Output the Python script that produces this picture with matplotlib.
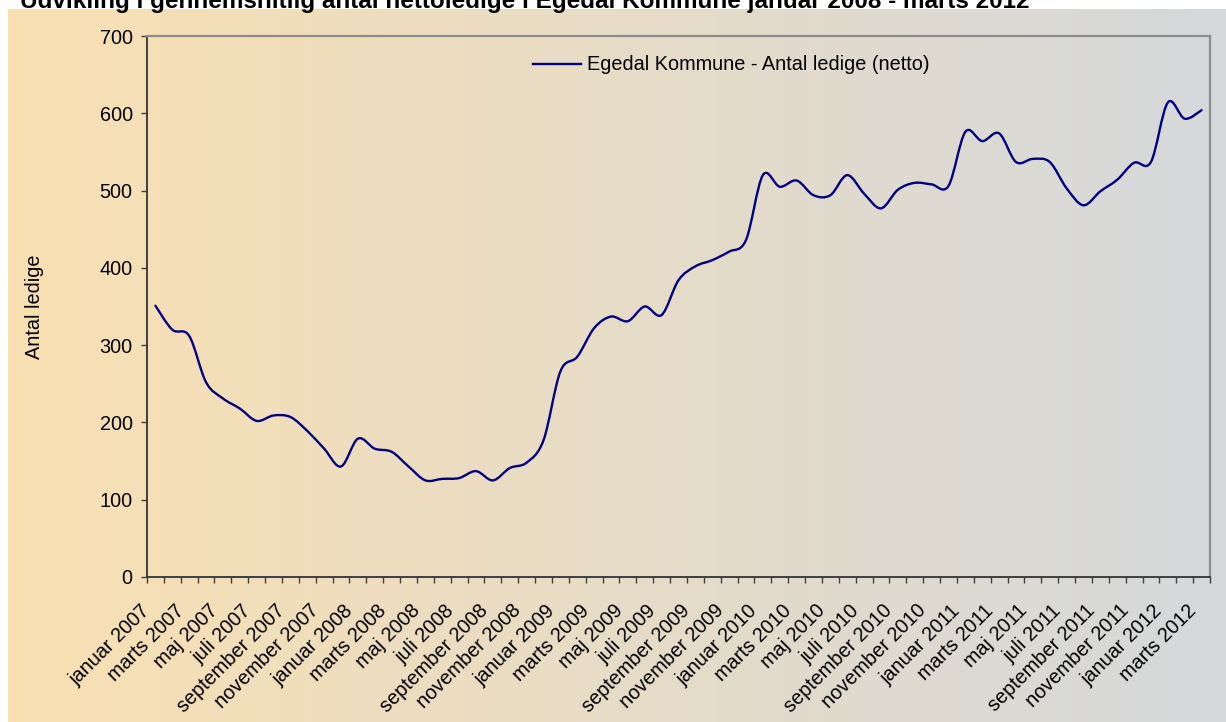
import numpy as np
import matplotlib
matplotlib.use("Agg")
import matplotlib.pyplot as plt
import matplotlib.transforms as mtransforms
from matplotlib.path import Path
from matplotlib.patches import PathPatch
from matplotlib.lines import Line2D

plt.rcParams["font.family"] = ["Liberation Sans", "DejaVu Sans"]

MONTH_NAMES = ["januar", "februar", "marts", "april", "maj", "juni", "juli",
               "august", "september", "oktober", "november", "december"]
YEARS = [2007, 2008, 2009, 2010, 2011, 2012]
N_MONTHS = 63  # januar 2007 - marts 2012
months = [f"{MONTH_NAMES[i % 12]} {YEARS[i // 12]}" for i in range(N_MONTHS)]

ledige = [351, 320, 312, 252, 231, 218, 202, 209, 207, 189, 166, 143,
          179, 166, 162, 143, 125, 127, 128, 137, 125, 141, 148, 177,
          266, 285, 322, 337, 331, 350, 339, 384, 402, 410, 421, 436,
          520, 505, 513, 494, 494, 520, 496, 477, 501, 510, 508, 506,
          576, 564, 574, 537, 541, 537, 503, 481, 499, 514, 536, 537,
          614, 593, 604]

SERIES_LABEL = "Egedal Kommune - Antal ledige (netto)"
TITLE = "Udvikling i gennemsnitlig antal nettoledige i Egedal Kommune januar 2008 - marts 2012"
LINE_COLOR = "#000080"
FS = 14.3

W, H = 1226, 722
fig = plt.figure(figsize=(W / 100, H / 100), dpi=100)
fig.patch.set_facecolor("white")

# gradient background (orange -> grey)
bg = fig.add_axes([8 / W, 0, 1 - 8 / W, 1 - 9 / H], zorder=0)
left_c = np.array([249, 224, 178]) / 255
right_c = np.array([213, 216, 219]) / 255
t = np.linspace(0, 1, 256)[None, :, None]
grad = left_c[None, None, :] * (1 - t) + right_c[None, None, :] * t
bg.imshow(grad, aspect="auto", extent=[0, 1, 0, 1])
bg.axis("off")

ax = fig.add_axes([147 / W, 1 - 577 / H, (1210 - 147) / W, (577 - 36) / H], zorder=1)
ax.patch.set_alpha(0)

# smoothed line (Excel-style bezier through the monthly values)
x = np.arange(len(ledige), dtype=float)
y = np.array(ledige, dtype=float)
verts = [(x[0], y[0])]
codes = [Path.MOVETO]
n = len(x)
for i in range(n - 1):
    p0 = np.array([x[max(i - 1, 0)], y[max(i - 1, 0)]])
    p1 = np.array([x[i], y[i]])
    p2 = np.array([x[i + 1], y[i + 1]])
    p3 = np.array([x[min(i + 2, n - 1)], y[min(i + 2, n - 1)]])
    c1 = p1 + (p2 - p0) / 6
    c2 = p2 - (p3 - p1) / 6
    verts += [tuple(c1), tuple(c2), tuple(p2)]
    codes += [Path.CURVE4] * 3
ax.add_patch(PathPatch(Path(verts, codes), fill=False, edgecolor=LINE_COLOR,
                       linewidth=1.7, capstyle="round", joinstyle="round"))

ax.set_xlim(-0.5, N_MONTHS - 0.5)
ax.set_ylim(0, 700)
ax.set_yticks(range(0, 701, 100))

# ticks between categories, labels every second month
ax.set_xticks(np.arange(-0.5, N_MONTHS, 1))
ax.set_xticklabels([])
lab_pos = list(range(0, N_MONTHS, 2))
ax.set_xticks(lab_pos, [months[i] for i in lab_pos], minor=True)
ax.tick_params(axis="x", which="major", length=4, width=1, color="#404040", direction="out")
ax.tick_params(axis="x", which="minor", length=0, pad=22, labelsize=FS)
ax.tick_params(axis="y", length=4.3, width=1, color="#404040", pad=6, labelsize=FS)
offset = mtransforms.ScaledTranslation(-6 / 72, 0, fig.dpi_scale_trans)
for lbl in ax.get_xticklabels(minor=True):
    lbl.set_rotation(45)
    lbl.set_ha("right")
    lbl.set_va("center")
    lbl.set_rotation_mode("anchor")
    lbl.set_transform(lbl.get_transform() + offset)

for side in ["left", "bottom"]:
    ax.spines[side].set_color("#333333")
    ax.spines[side].set_linewidth(1.3)
for side in ["top", "right"]:
    ax.spines[side].set_color("#8c8c8c")
    ax.spines[side].set_linewidth(1.6)

fig.text(35 / W, 1 - 307 / H, "Antal ledige", rotation=90, ha="center", va="center", fontsize=FS)

handle = Line2D([], [], color=LINE_COLOR, linewidth=1.7)
ax.legend([handle], [SERIES_LABEL], loc="center left", frameon=False, fontsize=FS,
          bbox_to_anchor=(533 / W, 1 - 65 / H), bbox_transform=fig.transFigure,
          borderpad=0, borderaxespad=0, handlelength=2.4, handletextpad=0.3)

fig.text(20 / W, 1 - 8 / H, TITLE, ha="left", va="baseline", fontsize=17.5, fontweight="bold")

fig.savefig("out.png", dpi=100)
